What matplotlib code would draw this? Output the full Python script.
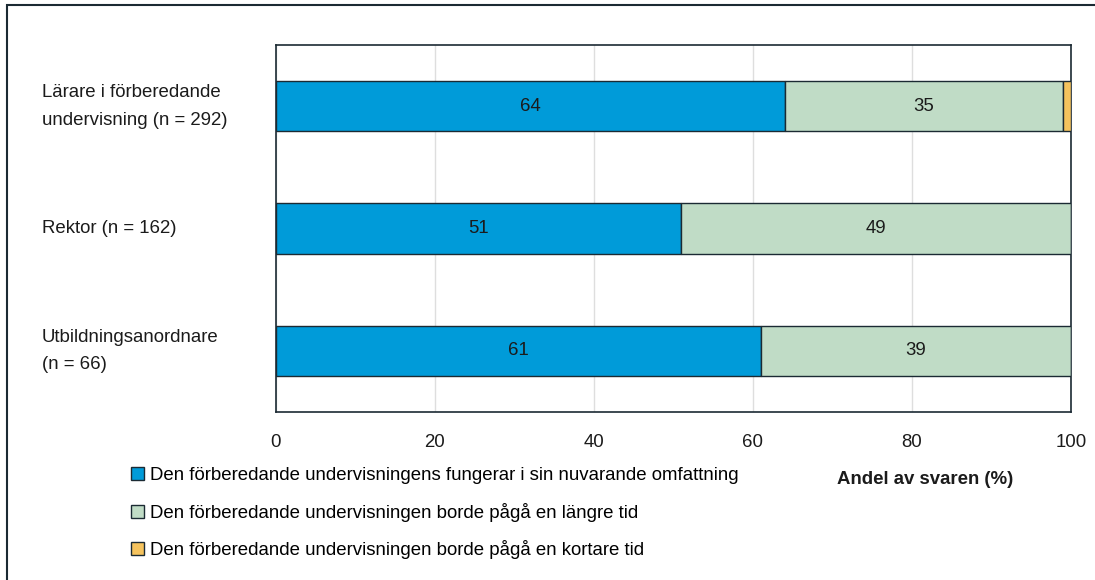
import matplotlib.pyplot as plt
import matplotlib.transforms as mtransforms
from matplotlib.patches import Rectangle, Patch

plt.rcParams['font.family'] = ['Liberation Sans', 'DejaVu Sans']

# data
groups = ["Lärare i förberedande\nundervisning (n = 292)",
          "Rektor (n = 162)",
          "Utbildningsanordnare\n(n = 66)"]
fungerar = [64, 51, 61]
langre = [35, 49, 39]
kortare = [1, 0, 0]
series_labels = ["Den förberedande undervisningens fungerar i sin nuvarande omfattning",
                 "Den förberedande undervisningen borde pågå en längre tid",
                 "Den förberedande undervisningen borde pågå en kortare tid"]
colors = ["#009bd9", "#c0dcc6", "#f5c35e"]
edge = "#1b2a33"
FS = 13.4

fig = plt.figure(figsize=(10.95, 5.8), dpi=100)
ax = fig.add_axes([0.252, 0.290, 0.726, 0.632])

ypos = list(range(len(groups)))
h = 0.41
left = [0] * len(groups)
for vals, col in zip([fungerar, langre, kortare], colors):
    bars = ax.barh(ypos, vals, left=left, height=h, color=col,
                   edgecolor=edge, linewidth=1.0, zorder=3)
    for b, v, l in zip(bars, vals, left):
        if v >= 5:
            ax.text(l + v / 2, b.get_y() + h / 2, str(v), ha='center',
                    va='center', fontsize=FS, color="#1b1b1b", zorder=4)
    left = [a + b for a, b in zip(left, vals)]

ax.set_xlim(0, 100)
ax.set_ylim(len(groups) - 0.5, -0.5)
ax.set_xticks([0, 20, 40, 60, 80, 100])
ax.tick_params(axis='x', length=0, pad=16, labelsize=FS, colors="#1b1b1b")
ax.set_yticks([])
ax.grid(axis='x', color="#dedede", linewidth=1, zorder=0)
for s in ax.spines.values():
    s.set_color(edge)
    s.set_linewidth(1.2)

# left-aligned category labels
trans = mtransforms.blended_transform_factory(fig.transFigure, ax.transData)
for y, g in zip(ypos, groups):
    fig.text(42 / 1095, y, g, transform=trans, ha='left', va='center',
             fontsize=FS, linespacing=1.8, color="#1b1b1b")

fig.text(925 / 1095, 1 - 479 / 580, "Andel av svaren (%)", ha='center',
         va='center', fontsize=FS, fontweight='bold', color="#1b1b1b")

handles = [Patch(facecolor=c, edgecolor=edge, linewidth=1.0) for c in colors]
fig.legend(handles, series_labels, loc='upper left',
           bbox_to_anchor=(124 / 1095, 1 - 460 / 580), frameon=False,
           fontsize=FS, handlelength=0.7, handleheight=0.7,
           handletextpad=0.3, labelspacing=0.98, borderaxespad=0)

# outer frame
fig.patches.append(Rectangle((7 / 1095, -0.05), 1.1, 1 - 5 / 580 + 0.05,
                             transform=fig.transFigure, fill=False,
                             edgecolor=edge, linewidth=1.5, clip_on=False))

fig.savefig("out.png", dpi=100)
